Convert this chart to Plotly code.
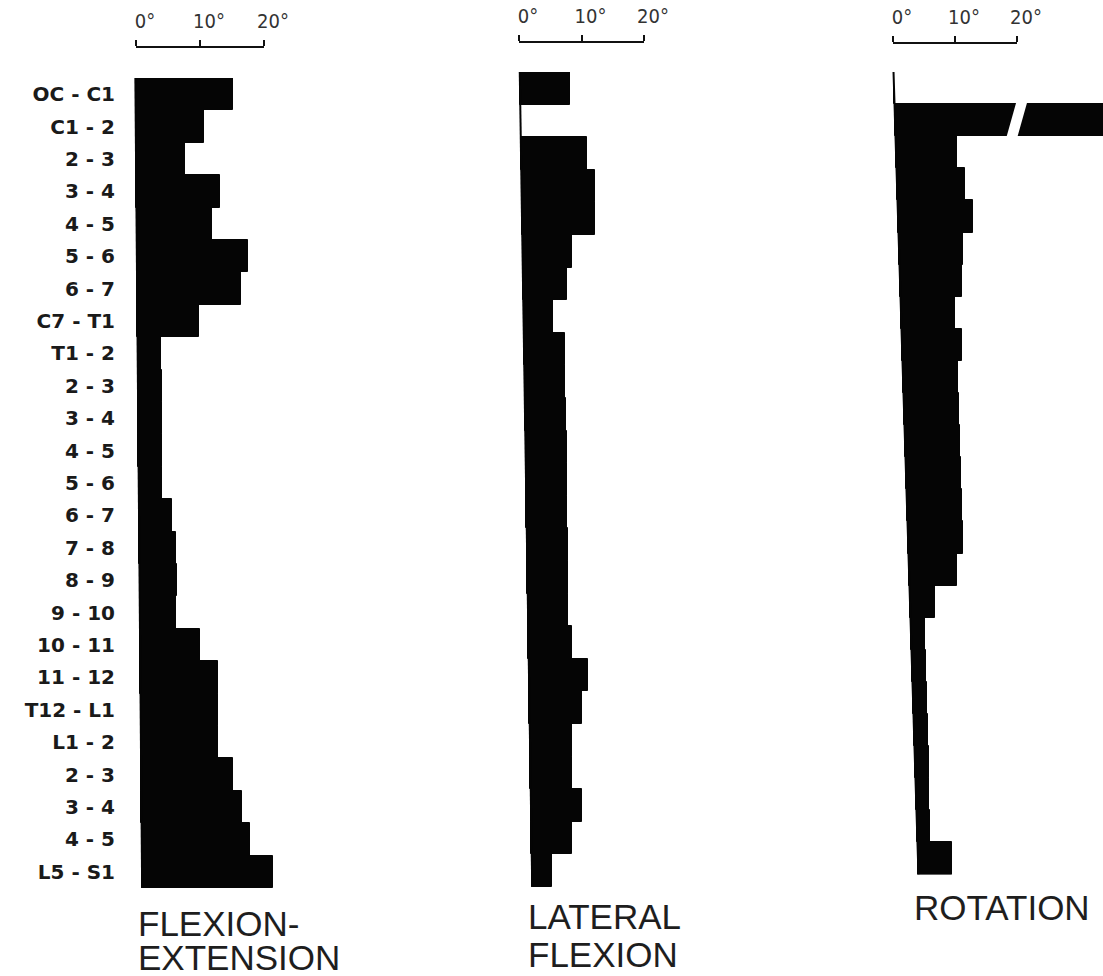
import plotly.graph_objects as go

W, H = 1103, 976

# ---------------- data ----------------
LEVELS = ["OC - C1", "C1 - 2", "2 - 3", "3 - 4", "4 - 5", "5 - 6", "6 - 7", "C7 - T1",
          "T1 - 2", "2 - 3", "3 - 4", "4 - 5", "5 - 6", "6 - 7", "7 - 8", "8 - 9", "9 - 10",
          "10 - 11", "11 - 12", "T12 - L1", "L1 - 2", "2 - 3", "3 - 4", "4 - 5", "L5 - S1"]

FLEX_EXT = [15.2, 10.6, 7.6, 13.1, 11.8, 17.4, 16.2, 9.6,
            3.7, 3.7, 3.7, 3.7, 3.7, 5.1, 5.8, 5.8, 5.6,
            9.4, 12.1, 12.1, 12.0, 14.3, 15.7, 16.9, 20.5]

LAT_FLEX = [8.0, 0.0, 10.5, 11.7, 11.6, 7.9, 7.0, 4.7,
            6.5, 6.5, 6.5, 6.6, 6.6, 6.5, 6.5, 6.5, 6.4,
            7.0, 9.5, 8.4, 6.75, 6.7, 8.2, 6.5, 3.2]

ROTATION = [0.0, 47.0, 9.8, 10.9, 12.0, 10.3, 10.0, 8.7,
            9.6, 8.9, 8.9, 8.9, 8.9, 8.9, 8.9, 7.8, 4.1,
            2.3, 2.3, 2.3, 2.3, 2.3, 2.2, 2.2, 5.6]

SCALE_TICKS = [0, 10, 20]
SCALE_TEXT = ["0°", "10°", "20°"]

TITLES = [["FLEXION-", "EXTENSION"], ["LATERAL", "FLEXION"], ["ROTATION"]]

# ---------------- layout geometry (pixels) ----------------
PANELS = [
    dict(p0=136, ppd=6.4, dom=(128, 400), top=78, bot=888, slant=(-0.08, 0.94), sy=47,
         title_x=140, title_y=[923, 957]),
    dict(p0=519, ppd=6.25, dom=(505, 780), top=72, bot=887, slant=(0.16, 2.08), sy=42,
         title_x=530, title_y=[916, 954]),
    dict(p0=893, ppd=6.2, dom=(880, 1103), top=72, bot=874.5, slant=(0.16, 4.03), sy=43,
         title_x=916, title_y=[907]),
]
SERIES = [FLEX_EXT, LAT_FLEX, ROTATION]
BREAK_AT = 19.95  # rotation C1-2 bar break (deg)

BLACK = "#050505"
n = len(LEVELS)
rows = list(range(n))

fig = go.Figure()
layout = dict(
    width=W, height=H, margin=dict(l=0, r=0, t=0, b=0, autoexpand=False),
    paper_bgcolor="white", plot_bgcolor="rgba(0,0,0,0)", showlegend=False,
    bargap=0,
)

for k, (P, vals) in enumerate(zip(PANELS, SERIES)):
    xi = 1 + k
    xs = 4 + 2 * k
    xd = 5 + 2 * k
    yi = 1 + k
    xname = "x" if xi == 1 else f"x{xi}"
    yname = "y" if yi == 1 else f"y{yi}"

    t0, t1 = P["slant"]
    base = [t0 + (t1 - t0) * (i + 0.5) / n for i in rows]

    fig.add_trace(go.Bar(
        y=rows, x=vals, base=base, orientation="h", width=1.0,
        marker=dict(color=BLACK, line=dict(color=BLACK, width=1)),
        xaxis=xname, yaxis=yname, hoverinfo="skip",
    ))
    fig.add_trace(go.Scatter(
        x=[t0 - (t1 - t0) * 0.5 / n, t1 + (t1 - t0) * 0.5 / n], y=[-0.5, n - 0.5],
        mode="lines", line=dict(color=BLACK, width=2),
        xaxis=xname, yaxis=yname, hoverinfo="skip",
    ))

    dx0, dx1 = P["dom"]
    layout[f"xaxis{'' if xi == 1 else xi}"] = dict(
        domain=[dx0 / W, dx1 / W],
        range=[(dx0 - P["p0"]) / P["ppd"], (dx1 - P["p0"]) / P["ppd"]],
        anchor=yname, showgrid=False, zeroline=False, showline=False,
        showticklabels=False, ticks="", fixedrange=True,
    )
    ydict = dict(
        domain=[1 - P["bot"] / H, 1 - P["top"] / H],
        range=[n - 0.5, -0.5], anchor=xname,
        showgrid=False, zeroline=False, showline=False, ticks="",
        fixedrange=True,
    )
    if k == 0:
        ydict.update(
            tickmode="array", tickvals=rows, ticktext=LEVELS, showticklabels=True,
            tickfont=dict(family="DejaVu Sans", size=20, color="#1a1a1a", weight="bold"),
            ticklabelstandoff=12,
        )
    else:
        ydict.update(showticklabels=False)
    layout[f"yaxis{'' if yi == 1 else yi}"] = ydict

    s0 = P["p0"] / W
    s1 = (P["p0"] + 20 * P["ppd"]) / W
    pos = 1 - P["sy"] / H
    layout[f"xaxis{xs}"] = dict(
        domain=[s0, s1], range=[0, 20], anchor="free", position=pos, side="top",
        showline=True, linecolor="#111", linewidth=2,
        ticks="outside", ticklen=6, tickwidth=2, tickcolor="#111",
        tickmode="array", tickvals=SCALE_TICKS, ticktext=SCALE_TEXT,
        tickfont=dict(family="Liberation Sans Narrow, DejaVu Sans Condensed, Liberation Sans",
                      size=20, color="#333"),
        ticklabelshift=9, ticklabelstandoff=4,
        showgrid=False, zeroline=False, fixedrange=True,
    )
    layout[f"xaxis{xd}"] = dict(
        domain=[s0, s1], range=[0, 20], anchor="free", position=pos, side="top",
        overlaying=f"x{xs}", showline=False,
        ticks="inside", ticklen=7, tickwidth=2, tickcolor="#111",
        tickmode="array", tickvals=[SCALE_TICKS[0], SCALE_TICKS[-1]], showticklabels=False,
        showgrid=False, zeroline=False, fixedrange=True,
    )
    for ax in (xs, xd):
        fig.add_trace(go.Scatter(
            x=[SCALE_TICKS[0], SCALE_TICKS[-1]], y=[0, 0], mode="markers",
            marker=dict(opacity=0), xaxis=f"x{ax}", yaxis=yname, hoverinfo="skip",
        ))

    for line, ty in zip(TITLES[k], P["title_y"]):
        fig.add_annotation(
            text=line, xref="paper", yref="paper",
            x=(P["title_x"] - 3) / W, y=1 - ty / H, xanchor="left", yanchor="middle",
            showarrow=False, borderpad=0,
            font=dict(family="Liberation Sans, Arial, sans-serif", size=35, color="#1e1e1e"),
        )

hw, sk = 0.8, 0.8
fig.add_shape(
    type="path", xref="x3", yref="y3",
    path=(f"M {BREAK_AT + sk - hw - 0.08},0.45 L {BREAK_AT + sk + hw + 0.08},0.45 "
          f"L {BREAK_AT - sk + hw + 0.08},1.55 L {BREAK_AT - sk - hw - 0.08},1.55 Z"),
    fillcolor="white", line=dict(width=0), layer="above",
)

fig.update_layout(**layout)
fig.write_html("out.html")
